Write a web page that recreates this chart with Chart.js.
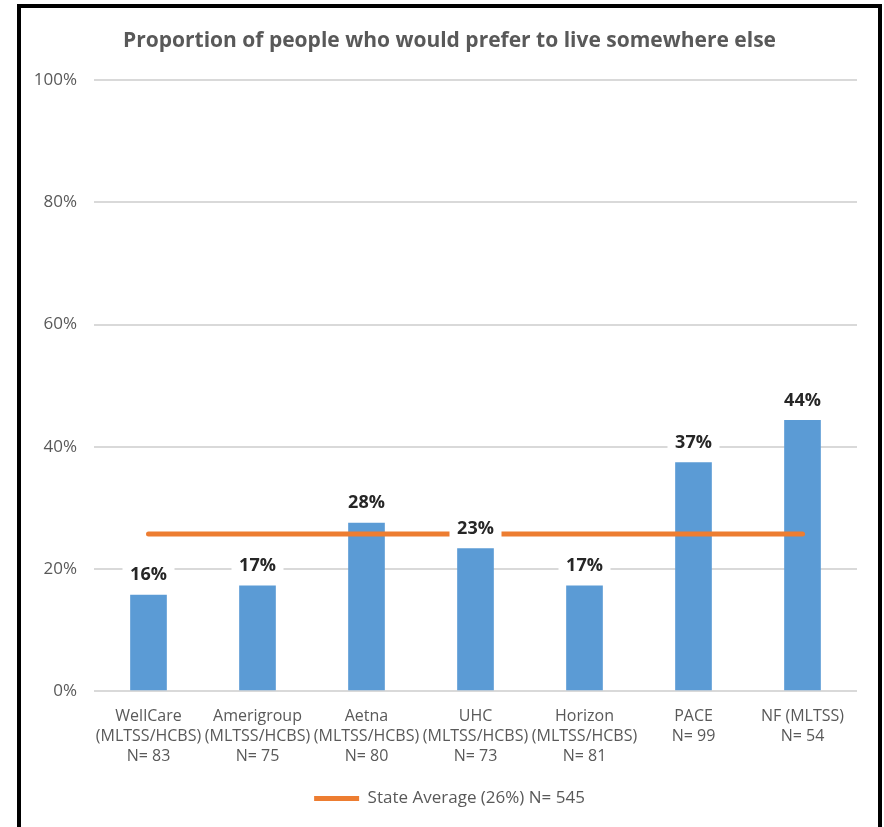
<!DOCTYPE html>
<html>
<head>
<meta charset="utf-8">
<script src="https://cdn.jsdelivr.net/npm/chart.js@4"></script>
<style>
  html, body { margin: 0; padding: 0; background: #fff; }
  #wrap { position: absolute; left: 0; top: 0; width: 884px; height: 827px; }
  #frame {
    position: absolute; left: 17px; top: 4px; width: 857px; height: 840px;
    border: 4px solid #000; border-bottom: none; pointer-events: none;
  }
</style>
</head>
<body>
<div id="wrap">
  <canvas id="chart"></canvas>
  <div id="frame"></div>
</div>
<script>
// chart data
const categories = [
  ['WellCare', '(MLTSS/HCBS)', 'N= 83'],
  ['Amerigroup', '(MLTSS/HCBS)', 'N= 75'],
  ['Aetna', '(MLTSS/HCBS)', 'N= 80'],
  ['UHC', '(MLTSS/HCBS)', 'N= 73'],
  ['Horizon', '(MLTSS/HCBS)', 'N= 81'],
  ['PACE', 'N= 99'],
  ['NF (MLTSS)', 'N= 54']
];
const proportions = [15.7, 17.2, 27.5, 23.3, 17.2, 37.4, 44.3];
const stateAverage = [25.7, 25.7, 25.7, 25.7, 25.7, 25.7, 25.7];
const yTicks = [0, 20, 40, 60, 80, 100];

const GRAY = '#595959';

// white-boxed value labels above bars
const barLabels = {
  id: 'barLabels',
  afterDatasetsDraw(chart) {
    const meta = chart.getDatasetMeta(0);
    const ctx = chart.ctx;
    ctx.save();
    ctx.font = 'bold 18px "Open Sans"';
    ctx.textAlign = 'center';
    ctx.textBaseline = 'middle';
    meta.data.forEach((bar, i) => {
      const cy = bar.y - 21;
      ctx.fillStyle = '#fff';
      ctx.fillRect(bar.x - 26, cy - 12, 52, 24);
      ctx.fillStyle = '#262626';
      ctx.fillText(Math.round(proportions[i]) + '%', bar.x, cy + 1);
    });
    ctx.restore();
  }
};

new Chart(document.getElementById('chart'), {
  type: 'bar',
  data: {
    labels: categories,
    datasets: [
      {
        type: 'bar',
        label: 'Proportion',
        data: proportions,
        backgroundColor: '#5B9BD5',
        barThickness: 36,
        order: 1
      },
      {
        type: 'line',
        label: 'State Average (26%) N= 545',
        data: stateAverage,
        borderColor: '#ED7D31',
        backgroundColor: '#ED7D31',
        borderWidth: 5,
        borderCapStyle: 'round',
        pointRadius: 0,
        pointHoverRadius: 0,
        order: 0
      }
    ]
  },
  options: {
    responsive: true,
    maintainAspectRatio: false,
    animation: false,
    layout: { padding: { left: 21, right: 6, top: 0, bottom: 10 } },
    plugins: {
      title: {
        display: true,
        text: 'Proportion of people who would prefer to live somewhere else',
        color: GRAY,
        font: { family: 'Open Sans', size: 21, weight: 'bold' },
        padding: { top: 28, bottom: 27 }
      },
      legend: {
        position: 'bottom',
        labels: {
          filter: item => item.datasetIndex === 1,
          usePointStyle: true,
          pointStyle: 'line',
          pointStyleWidth: 45,
          color: GRAY,
          font: { family: 'Open Sans', size: 17 },
          padding: 11
        }
      },
      tooltip: { enabled: false }
    },
    scales: {
      x: {
        afterFit(scale) { scale.height += 6; },
        grid: { display: false },
        border: { display: false },
        ticks: {
          color: GRAY,
          font: { family: 'Open Sans', size: 16, lineHeight: 1.25 },
          autoSkip: false,
          maxRotation: 0,
          padding: 7
        }
      },
      y: {
        min: 0,
        max: 100,
        afterFit(scale) { scale.width = 73; },
        afterBuildTicks(scale) { scale.ticks = yTicks.map(v => ({ value: v })); },
        grid: { color: '#D9D9D9', lineWidth: 2, drawTicks: false },
        border: { display: false },
        ticks: {
          color: GRAY,
          font: { family: 'Open Sans', size: 17 },
          padding: 17,
          callback: v => v + '%'
        }
      },
      // empty right-hand spacer so the plot ends where the reference's does
      yRight: {
        position: 'right',
        afterFit(scale) { scale.width = 21; },
        grid: { display: false },
        border: { display: false },
        ticks: { display: false }
      }
    }
  },
  plugins: [barLabels]
});
</script>
</body>
</html>
